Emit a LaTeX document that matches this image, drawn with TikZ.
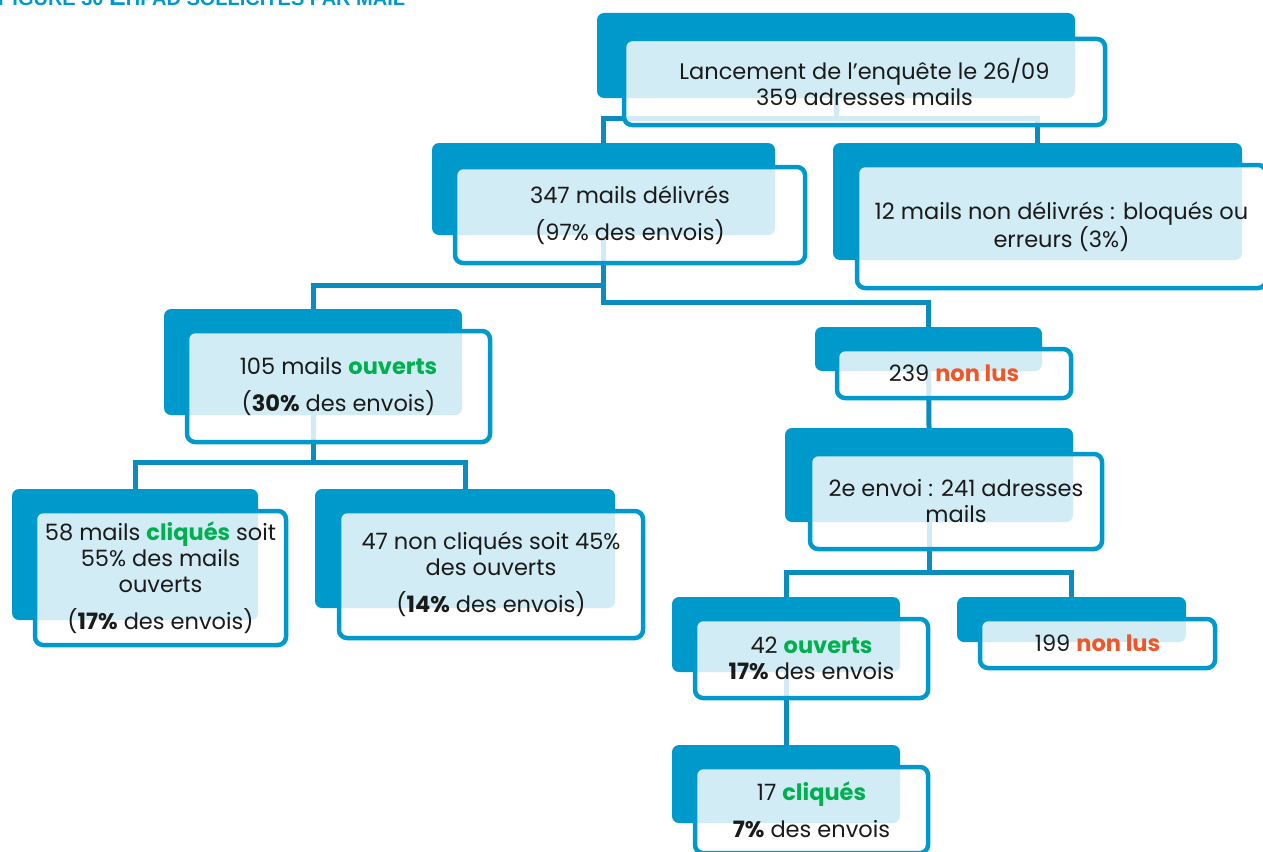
\documentclass[tikz,border=0pt]{standalone}
\usepackage{fontspec}
\setmainfont{Poppins}
\newfontfamily\titlefont{Liberation Sans}
\usetikzlibrary{backgrounds}

\definecolor{boxblue}{HTML}{0099CC}
\definecolor{linkblue}{HTML}{0A8CBF}
\definecolor{okgreen}{HTML}{00B050}
\definecolor{noorange}{HTML}{F0562A}
\definecolor{txtgray}{HTML}{1A1A1A}

\newcommand{\oktxt}[1]{\textcolor{okgreen}{\bfseries #1}}
\newcommand{\notxt}[1]{\textcolor{noorange}{\bfseries #1}}

\begin{document}
\begin{tikzpicture}[
    x=1pt, y=-1pt,
    back/.style={rectangle, rounded corners=7pt, fill=boxblue, inner sep=0pt},
    front/.style={rectangle, rounded corners=8pt, draw=boxblue, line width=4.5pt,
        fill=white, fill opacity=0.82, text opacity=1, inner sep=0pt,
        align=center, text=txtgray, font=\fontsize{22.5}{26}\selectfont},
    link/.style={draw=linkblue, line width=5pt},
]

\useasboundingbox (0,0) rectangle (1263,851);
\clip (0,0) rectangle (1263,851);

% Title (cut at the top edge)
\node[anchor=base west, inner sep=0pt, text=boxblue, font=\titlefont\bfseries\fontsize{20}{20}\selectfont] (titre) at (-3,6)
    {{\fontsize{25}{25}\selectfont F}IGURE 30 {\fontsize{25}{25}\selectfont E}HPAD SOLLICITÉS PAR MAIL};

% Level 1
\node[back, minimum width=478, minimum height=85] (lancement-b) at (836,55.5) {};
\node[front, minimum width=481, minimum height=86] (lancement) at (864.5,82)
    {Lancement de l{\char"0027}enquête le 26/09\\359 adresses mails};

% Level 2
\node[back, minimum width=343, minimum height=92] (delivres-b) at (603.5,189) {};
\node[front, minimum width=350, minimum height=96] (delivres) at (630,215)
    {347 mails délivrés\\[11pt](97\% des envois)};

\node[back, minimum width=409, minimum height=117] (nondelivres-b) at (1037.5,201.5) {};
\node[front, minimum width=409, minimum height=123] (nondelivres) at (1061.5,226.5)
    {12 mails non délivrés : bloqués ou\\erreurs (3\%)};

% Level 3
\node[back, minimum width=298, minimum height=106] (ouverts-b) at (313,362) {};
\node[front, minimum width=303, minimum height=111] (ouverts) at (338.5,386.5)
    {105 mails \oktxt{ouverts}\\[11pt](\textbf{30\%} des envois)};

\node[back, minimum width=227, minimum height=44] (nonlus-b) at (928.5,349) {};
\node[front, minimum width=234, minimum height=49] (nonlus) at (954,373.5)
    {239 \notxt{non lus}};

% Level 4
\node[back, minimum width=246, minimum height=131] (cliques-b) at (135,554.5) {};
\node[front, minimum width=251, minimum height=134] (cliques) at (160.5,578)
    {58 mails \oktxt{cliqués} soit\\55\% des mails\\ouverts\\[11pt](\textbf{17\%} des envois)};

\node[back, minimum width=300, minimum height=119] (noncliques-b) at (465,548.5) {};
\node[front, minimum width=304, minimum height=127] (noncliques) at (491,574.5)
    {47 non cliqués soit 45\%\\des ouverts\\[11pt](\textbf{14\%} des envois)};

\node[back, minimum width=288, minimum height=94] (relance-b) at (929,475) {};
\node[front, minimum width=292, minimum height=95] (relance) at (956,501.5)
    {2e envoi : 241 adresses\\mails};

% Level 5
\node[back, minimum width=228, minimum height=75] (ouverts2-b) at (786,634.5) {};
\node[front, minimum width=233, minimum height=79] (ouverts2) at (811.5,658.5)
    {42 \oktxt{ouverts}\\\textbf{17\%} des envois};

\node[back, minimum width=229, minimum height=45] (nonlus2-b) at (1071.5,619.5) {};
\node[front, minimum width=235, minimum height=49] (nonlus2) at (1097.5,643.5)
    {199 \notxt{non lus}};

% Level 6
\node[back, minimum width=228, minimum height=78] (cliques2-b) at (786,784) {};
\node[front, minimum width=233, minimum height=86] (cliques2) at (811.5,810)
    {17 \oktxt{cliqués}\\[11pt]\textbf{7\%} des envois};

% Connectors (behind the boxes)
\begin{scope}[on background layer]
\draw[link] (lancement-b.center) -- (lancement-b.center |- 0,118);
\draw[link] (delivres-b.north) |- (lancement-b.center |- 0,118) -| (nondelivres-b.north);

\draw[link] (ouverts-b.north) |- (delivres-b.center |- 0,285) -- (delivres-b.center);
\draw[link] (delivres-b.center) -- (delivres-b.center |- 0,302) -| (nonlus-b.north);

\draw[link] (ouverts-b.center) -- (ouverts-b.center |- 0,462);
\draw[link] (cliques-b.north) |- (ouverts-b.center |- 0,462) -| (noncliques-b.north);

\draw[link] (nonlus-b.center) -- (relance-b.north);

\draw[link] (relance-b.center) -- (relance-b.center |- 0,572);
\draw[link] (ouverts2-b.north) |- (relance-b.center |- 0,572) -| (nonlus2-b.north);

\draw[link] (ouverts2-b.center) -- (cliques2-b.north);
\end{scope}

\end{tikzpicture}
\end{document}
